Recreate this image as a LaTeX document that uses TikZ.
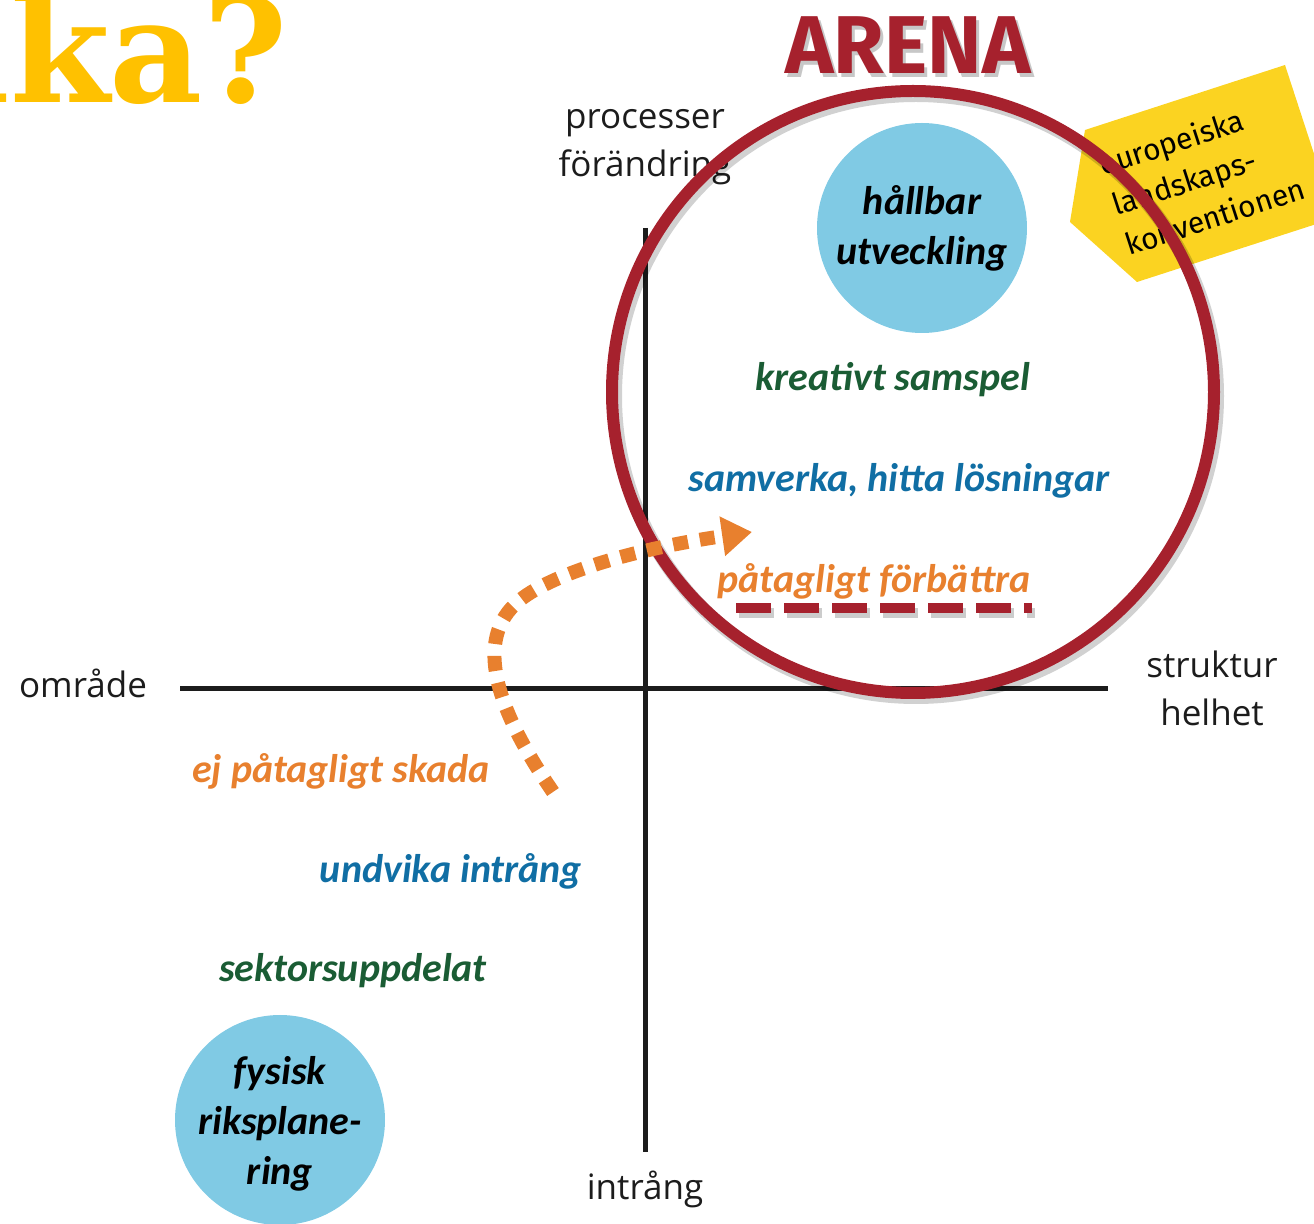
\documentclass[tikz,border=0pt]{standalone}
\usepackage{fontspec}
\setmainfont{Carlito}
\newfontfamily\axisfont{Open Sans}
\newfontfamily\arenafont{Fira Sans}
\newfontfamily\tagfont{Fira Sans}
\newfontfamily\titlefont{DejaVu Serif}
\usepackage{tikz}
\usetikzlibrary{arrows.meta,positioning,calc}
\definecolor{arenared}{RGB}{166,33,45}
\definecolor{skyblue}{RGB}{128,202,228}
\definecolor{lvlorange}{RGB}{232,128,46}
\definecolor{lvlblue}{RGB}{16,110,164}
\definecolor{lvlgreen}{RGB}{26,92,52}
\definecolor{tagyellow}{RGB}{251,211,33}
\definecolor{titleyellow}{RGB}{255,193,0}
\definecolor{axisblack}{RGB}{28,28,28}
\tikzstyle{axis} = [line width=2.5pt, color=axisblack]
\tikzstyle{axislabel} = [font=\axisfont\fontsize{17.5}{24}\selectfont, text=axisblack, align=center, inner sep=0pt]
\tikzstyle{goal} = [circle, fill=skyblue, minimum size=105pt, inner sep=0pt, align=center, font=\bfseries\itshape\fontsize{20}{25}\selectfont, text=black]
\tikzstyle{level} = [font=\bfseries\itshape\fontsize{20}{24}\selectfont, inner sep=0pt]
\tikzstyle{ring} = [line width=6pt, color=arenared]
\tikzstyle{ringshadow} = [line width=7pt, color=black, opacity=0.18]
\tikzstyle{move} = [line width=7pt, color=lvlorange, dash pattern=on 7.5pt off 6pt, -{Triangle[length=15pt,width=19pt]}]

\begin{document}
\begin{tikzpicture}[x=0.5pt, y=-0.5pt]
\useasboundingbox (0,0) rectangle (1314,1224);

% heading
\node (title) [anchor=base east, text=titleyellow, font=\titlefont\bfseries\fontsize{72}{72}\selectfont, inner sep=0pt] at (288,103) {lka?};
\node (arenashadow) [text=black, opacity=0.22, font=\arenafont\bfseries\fontsize{41}{44}\selectfont, inner sep=0pt] at (911,49) {ARENA};
\node (arena) [text=arenared, font=\arenafont\bfseries\fontsize{41}{44}\selectfont, inner sep=0pt] at (908,45) {ARENA};

% yellow tag
\fill[tagyellow] (1085,130) -- (1285,65) -- (1335,218) -- (1137,282) -- (1070,222) -- cycle;
\node (convention) [rotate=18, align=left, inner sep=0pt, font=\tagfont\fontsize{15}{21}\selectfont] at (1202,176) {europeiska\\landskaps-\\konventionen};

% axes
\coordinate (top) at (645,228);
\coordinate (bottom) at (645,1152);
\coordinate (left) at (180,689);
\coordinate (right) at (1108,689);
\draw[axis] (top) -- (bottom);
\draw[axis] (left) -- (right);
\node (processer) [axislabel] at (645,147) {processer\\förändring};
\node (omrade) [axislabel] at (83,683) {område};
\node (struktur) [axislabel] at (1212,688) {struktur\\helhet};
\node (intrang) [axislabel] at (645,1189) {intrång};

% goals
\node (hallbar) [goal] at (922,228) {hållbar\\utveckling};
\node (fysisk) [goal] at (280,1120) {};
\node (fysisktext) [align=center, inner sep=0pt, font=\bfseries\itshape\fontsize{20}{25}\selectfont] at (280,1124) {fysisk\\riksplane-\\ring};

% arena ring
\coordinate (ringc) at (913,392);
\draw[ringshadow] ($(ringc)+(3,4)$) circle (301);
\draw[ring] (ringc) circle (301);

% levels
\node (kreativt) [level, text=lvlgreen] at (893,380) {kreativt samspel};
\node (samverka) [level, text=lvlblue] at (899,481) {samverka, hitta lösningar};
\node (forbattra) [level, text=lvlorange] at (874,581) {påtagligt förbättra};
\node (skada) [level, text=lvlorange] at (341,771) {ej påtagligt skada};
\node (undvika) [level, text=lvlblue] at (451,871) {undvika intrång};
\node (sektor) [level, text=lvlgreen] at (353,971) {sektorsuppdelat};

% underline
\coordinate (ulstart) at (736,608);
\coordinate (ulend) at (1032,608);
\draw[line width=5pt, black, opacity=0.2, dash pattern=on 17.5pt off 6.5pt] ($(ulstart)+(3,5)$) -- ($(ulend)+(3,5)$);
\draw[line width=5pt, arenared, dash pattern=on 17.5pt off 6.5pt] (ulstart) -- (ulend);

% shift arrow
\coordinate (from) at (553,792);
\coordinate (to) at (752,532);
\draw[move] (from) .. controls (500,715) and (470,640) .. (520,600) .. controls (555,572) and (640,548) .. (to);
\end{tikzpicture}
\end{document}
